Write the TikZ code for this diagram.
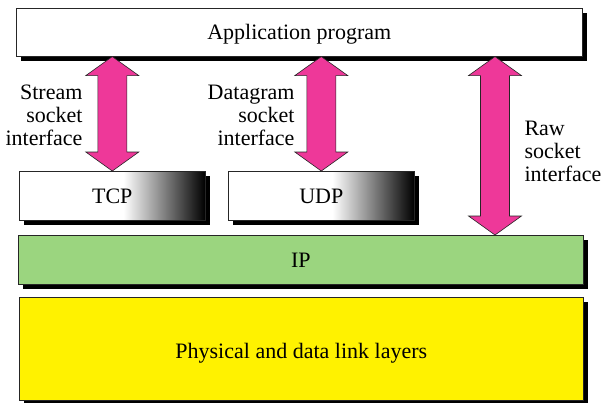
\documentclass[tikz,border=0pt]{standalone}
\usepackage{fontspec}
\setmainfont{Liberation Serif}
\usepackage{tikz}
\usetikzlibrary{calc}
\usetikzlibrary{shadows}
\definecolor{sockpink}{RGB}{238,56,153}
\definecolor{ipgreen}{RGB}{155,213,127}
\pgfdeclarehorizontalshading{tcpgrad}{100bp}{color(0bp)=(white); color(53bp)=(white); color(75bp)=(black); color(100bp)=(black)}
\tikzset{t/.style={font=\rmfamily\fontsize{22}{23}\selectfont}}
\tikzset{
layer/.style={draw=black!85, line width=.6pt, inner sep=0pt, anchor=north west, t, text depth=0pt, drop shadow={opacity=1, fill=black, shadow xshift=5pt, shadow yshift=-5pt}},
sockarrow/.style={draw=black!85, line width=.6pt, fill=sockpink}
}
% fat double arrow between two points on one vertical line
\newcommand{\fatarrow}[2]{%
  \draw[sockarrow] let \p1=(#1), \p2=(#2) in
    (\x1,\y1) -- (\x1+26.5pt,\y1-19pt) -- (\x1+14.5pt,\y1-19pt)
    -- (\x1+14.5pt,\y2+19pt) -- (\x1+26.5pt,\y2+19pt) -- (\x2,\y2)
    -- (\x1-26.5pt,\y2+19pt) -- (\x1-14.5pt,\y2+19pt)
    -- (\x1-14.5pt,\y1-19pt) -- (\x1-26.5pt,\y1-19pt) -- cycle;}

\begin{document}
\begin{tikzpicture}[x=1pt, y=-1pt]
    \useasboundingbox (0,0) rectangle (602,402);
    \node[layer, fill=white, minimum width=566pt, minimum height=48pt] (app) at (16,8) {Application program};
    \node[layer, shading=tcpgrad, minimum width=186pt, minimum height=49pt] (tcp) at (19,171) {TCP};
    \node[layer, shading=tcpgrad, minimum width=186pt, minimum height=49pt] (udp) at (228,171) {UDP};
    \node[layer, fill=ipgreen, minimum width=565pt, minimum height=49pt] (ip) at (18,235) {IP};
    \node[layer, fill=yellow, minimum width=564pt, minimum height=103pt, text height=20pt] (phys) at (19,297) {Physical and data link layers};
    \coordinate (raw) at (495,0);
    \fatarrow{app.south -| tcp.north}{tcp.north}
    \fatarrow{app.south -| udp.north}{udp.north}
    \fatarrow{app.south -| raw}{ip.north -| raw}
    \node[t, align=right, anchor=east] (lstream) at (86,115) {Stream\\socket\\interface};
    \node[t, align=right, anchor=east] (ldgram) at (298,115) {Datagram\\socket\\interface};
    \node[t, align=left, anchor=west] (lraw) at (521,151) {Raw\\socket\\interface};
  \end{tikzpicture}
\end{document}
